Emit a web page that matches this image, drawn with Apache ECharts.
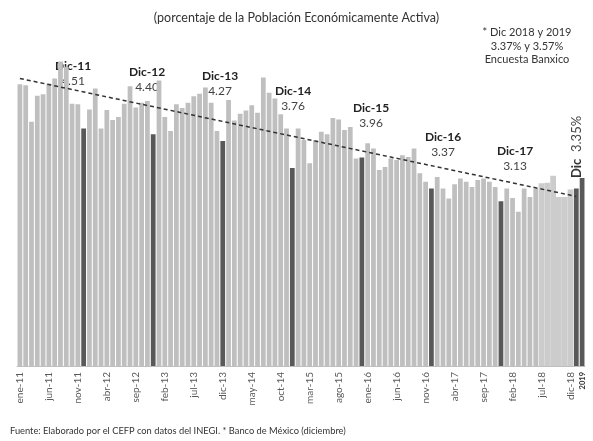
<!DOCTYPE html>
<html>
<head>
<meta charset="utf-8">
<script src="https://cdn.jsdelivr.net/npm/echarts@6/dist/echarts.min.js"></script>
<style>html,body{margin:0;padding:0;background:#fff}#c{width:593px;height:441px}</style>
</head>
<body>
<div id="c"></div>
<script>
const categorias = [
 'ene-11','feb-11','mar-11','abr-11','may-11','jun-11','jul-11','ago-11','sep-11','oct-11','nov-11','dic-11',
 'ene-12','feb-12','mar-12','abr-12','may-12','jun-12','jul-12','ago-12','sep-12','oct-12','nov-12','dic-12',
 'ene-13','feb-13','mar-13','abr-13','may-13','jun-13','jul-13','ago-13','sep-13','oct-13','nov-13','dic-13',
 'ene-14','feb-14','mar-14','abr-14','may-14','jun-14','jul-14','ago-14','sep-14','oct-14','nov-14','dic-14',
 'ene-15','feb-15','mar-15','abr-15','may-15','jun-15','jul-15','ago-15','sep-15','oct-15','nov-15','dic-15',
 'ene-16','feb-16','mar-16','abr-16','may-16','jun-16','jul-16','ago-16','sep-16','oct-16','nov-16','dic-16',
 'ene-17','feb-17','mar-17','abr-17','may-17','jun-17','jul-17','ago-17','sep-17','oct-17','nov-17','dic-17',
 'ene-18','feb-18','mar-18','abr-18','may-18','jun-18','jul-18','ago-18','sep-18','oct-18','nov-18','dic-18',
 '2018','2019'
];
const tasa = [
 5.35,5.33,4.64,5.13,5.16,5.36,5.46,5.78,5.68,4.98,4.97,4.51,
 4.87,5.27,4.51,4.86,4.67,4.73,4.98,5.31,4.91,5.00,5.03,4.40,
 5.42,4.73,4.46,4.97,4.90,5.00,5.12,5.17,5.29,5.00,4.46,4.27,
 5.05,4.66,4.79,4.85,4.95,4.81,5.48,5.19,5.08,4.78,4.51,3.76,
 4.51,4.29,3.85,4.29,4.45,4.40,4.71,4.68,4.48,4.54,3.94,3.96,
 4.23,4.13,3.72,3.78,3.94,3.91,4.00,3.97,4.13,3.66,3.50,3.37,
 3.59,3.37,3.18,3.45,3.56,3.50,3.40,3.53,3.56,3.50,3.40,3.13,
 3.37,3.19,2.93,3.37,3.21,3.37,3.47,3.48,3.61,3.21,3.21,3.35,
 3.37,3.57
];
// meses estimados (barras claras sin separación)
const estimados = ['jul-18','ago-18','sep-18','oct-18','nov-18','dic-18'];
// línea de tendencia: extremos
const tendenciaCats = ['ene-11','2018'];
const tendenciaVals = [5.46, 3.22];
// etiquetas de diciembre
const dicNombres = ['Dic-11','Dic-12','Dic-13','Dic-14','Dic-15','Dic-16','Dic-17'];
const dicValores = ['4.51','4.40','4.27','3.76','3.96','3.37','3.13'];

const labelPos = [[73,59],[147,65],[220,69],[293,84],[371,101],[443,130],[515,144]];
const FONT = 'Lato, "Liberation Sans", sans-serif';

const isDark = (c) => c.startsWith('dic') && !estimados.includes(c) || c === '2018' || c === '2019';
const mainData = categorias.map((c, i) => estimados.includes(c) ? null : {
  value: tasa[i],
  itemStyle: { color: isDark(c) ? '#595959' : '#bfbfbf' }
});
const estData = categorias.map((c, i) => estimados.includes(c) ? tasa[i] : null);

const graphics = dicNombres.map((n, k) => ({
  type: 'text', x: labelPos[k][0], y: labelPos[k][1],
  style: {
    text: '{b|' + n + '}\n{v|' + dicValores[k] + '}',
    align: 'center',
    rich: {
      b: { fontFamily: FONT, fontSize: 12, fontWeight: 'bold', fill: '#222', lineHeight: 15, align: 'center' },
      v: { fontFamily: FONT, fontSize: 12, fill: '#444', lineHeight: 15, align: 'center' }
    }
  }
}));
graphics.push(
  { type: 'text', left: 'center', top: 11, style: { text: '(porcentaje de la Población Económicamente Activa)', fontFamily: FONT, fontSize: 12.5, fill: '#333' } },
  { type: 'text', x: 527, y: 26, style: { text: '* Dic 2018 y 2019\n3.37% y 3.57%\nEncuesta Banxico', align: 'center', fontFamily: FONT, fontSize: 11, lineHeight: 13.5, fill: '#333' } },
  { type: 'text', left: 10, top: 426, style: { text: 'Fuente: Elaborado por el CEFP con datos del INEGI. * Banco de México (diciembre)', fontFamily: FONT, fontSize: 9.3, fill: '#333' } },
  { type: 'text', x: 570, y: 178, rotation: Math.PI / 2, style: {
      text: '{b|Dic}  {v|3.35%}', rich: {
        b: { fontFamily: FONT, fontSize: 13, fontWeight: 'bold', fill: '#333' },
        v: { fontFamily: FONT, fontSize: 13, fill: '#444' } } } }
);

const chart = echarts.init(document.getElementById('c'), null, { renderer: 'canvas' });
chart.setOption({
  animation: false,
  grid: { left: 17, right: 8, top: 50, bottom: 75 },
  xAxis: [{
    type: 'category', data: categorias, boundaryGap: true,
    axisLine: { lineStyle: { color: '#bfbfbf', width: 1 } },
    axisTick: { interval: (i) => i % 5 === 0, length: 5, lineStyle: { color: '#a6a6a6' } },
    axisLabel: {
      rotate: 90, margin: 6, fontFamily: FONT, fontSize: 10, color: '#595959',
      showMaxLabel: true, showMinLabel: true, hideOverlap: false,
      interval: (i) => i % 5 === 0 || i >= 96,
      formatter: (v) => (v === '2018' || v === '2019') ? '{y|' + v + '}' : v,
      rich: { y: { fontFamily: FONT, fontSize: 7.5, fontWeight: 'bold', color: '#333' } }
    }
  }, {
    type: 'category', data: categorias, show: false, boundaryGap: true
  }],
  yAxis: [{ type: 'value', min: 0, max: 6, show: false, splitLine: { show: false } }],
  series: [
    { type: 'bar', name: 'Tasa', xAxisIndex: 0, data: mainData, barCategoryGap: '18%' },
    { type: 'bar', name: 'Estimado', xAxisIndex: 1, data: estData, barCategoryGap: '0%', itemStyle: { color: '#cccccc' } },
    { type: 'line', name: 'Tendencia', xAxisIndex: 0, z: 5, symbol: 'none',
      data: tendenciaCats.map((c, i) => [c, tendenciaVals[i]]),
      lineStyle: { color: '#333', width: 1.5, type: [4, 3] } }
  ],
  graphic: graphics
});
</script>
</body>
</html>
